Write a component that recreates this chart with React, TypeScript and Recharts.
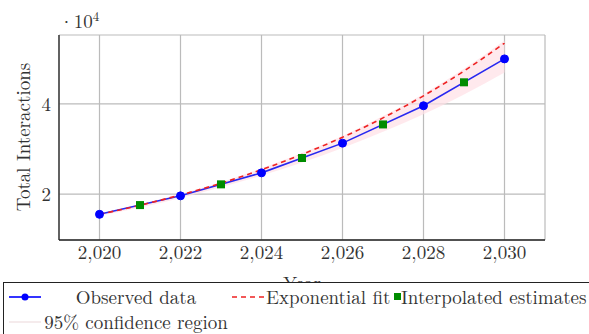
import React from 'react';
import {
  ComposedChart,
  Line,
  Area,
  XAxis,
  YAxis,
  CartesianGrid,
} from 'recharts';

const years = [2020, 2021, 2022, 2023, 2024, 2025, 2026, 2027, 2028, 2029, 2030];
const observed = [15500, null, 19600, null, 24700, null, 31300, null, 39600, null, 50000];
const interpolated = [null, 17550, null, 22150, null, 28000, null, 35450, null, 44800, null];
const expFit = [15500, 17500, 19800, 22400, 25400, 28800, 32600, 36900, 41800, 47300, 53500];
const bandLow = [15200, 17000, 19100, 21500, 24100, 27000, 30200, 33800, 37700, 42100, 47000];
const bandHigh = [15700, 17700, 20000, 22600, 25700, 29100, 32900, 37300, 42200, 47800, 54100];
const xTicks = [2020, 2022, 2024, 2026, 2028, 2030];
const yTicks = [20000, 40000];

const data = years.map((year, i) => ({
  year,
  observed: observed[i],
  interpolated: interpolated[i],
  fit: expFit[i],
  band: [bandLow[i], bandHigh[i]],
}));

const FONT = "'Latin Modern Roman'";
const FS = 19;
const TEXT = '#333';

const SquareDot = (props: any) => {
  const { cx, cy, payload } = props;
  if (payload.interpolated == null || cx == null || cy == null) return null;
  return <rect x={cx - 4} y={cy - 4} width={8} height={8} fill="#008c00" />;
};

const cell: React.CSSProperties = { position: 'absolute', whiteSpace: 'nowrap', lineHeight: '19px' };

const LegendBox = () => (
  <div
    style={{
      position: 'absolute',
      left: 3,
      top: 282,
      width: 600,
      height: 60,
      border: '1.3px solid #222',
      background: '#fff',
      fontFamily: FONT,
      fontSize: FS,
      color: TEXT,
      boxSizing: 'border-box',
    }}
  >
    {/* row 1 */}
    <svg style={{ position: 'absolute', left: 5, top: 7 }} width={32} height={14}>
      <line x1={0} y1={7} x2={32} y2={7} stroke="#0000ff" strokeWidth={1.6} />
      <circle cx={16} cy={7} r={3.5} fill="#0000ff" />
    </svg>
    <div style={{ ...cell, left: 39, top: 4, width: 186, textAlign: 'center' }}>Observed data</div>
    <svg style={{ position: 'absolute', left: 228, top: 7 }} width={32} height={14}>
      <line x1={0} y1={7} x2={32} y2={7} stroke="#ee2222" strokeWidth={1.5} strokeDasharray="5 4" />
    </svg>
    <div style={{ ...cell, left: 262, top: 4 }}>Exponential fit</div>
    <svg style={{ position: 'absolute', left: 389, top: 7 }} width={8} height={14}>
      <rect x={1} y={3} width={7} height={7} fill="#008c00" />
    </svg>
    <div style={{ ...cell, left: 397, top: 4 }}>Interpolated estimates</div>
    {/* row 2 */}
    <svg style={{ position: 'absolute', left: 5, top: 32 }} width={32} height={14}>
      <line x1={0} y1={7} x2={32} y2={7} stroke="#f2e4e6" strokeWidth={1.5} />
    </svg>
    <div style={{ ...cell, left: 39, top: 29, width: 186, textAlign: 'center' }}>95% confidence region</div>
  </div>
);

const YLabel = () => (
  <text
    x={22}
    y={137}
    transform="rotate(-90 22 137)"
    textAnchor="middle"
    dominantBaseline="central"
    style={{ fontFamily: FONT }}
    fontSize={FS}
    fill={TEXT}
  >
    Total Interactions
  </text>
);

export default function App() {
  return (
    <div style={{ position: 'absolute', left: 0, top: 0, width: 589, height: 334, overflow: 'hidden', background: '#fff', fontFamily: FONT }}>
      <ComposedChart
        width={589}
        height={334}
        data={data}
        margin={{ top: 35, right: 44, bottom: 0, left: 0 }}
        style={{ fontFamily: FONT }}
      >
        <CartesianGrid stroke="#bbbbbb" strokeWidth={1.2} />
        <XAxis
          dataKey="year"
          type="number"
          domain={[2019, 2031]}
          ticks={xTicks}
          tickFormatter={(v: number) => v.toLocaleString('en-US')}
          tickLine={false}
          tickSize={0}
          tickMargin={6}
          height={94}
          axisLine={{ stroke: '#222', strokeWidth: 1.3 }}
          tick={{ fontSize: FS, fill: TEXT, style: { fontFamily: FONT } }}
          label={{ value: 'Year', position: 'insideTop', offset: 37, fontSize: FS, fill: TEXT, style: { fontFamily: FONT } }}
        />
        <XAxis
          xAxisId="top"
          dataKey="year"
          type="number"
          orientation="top"
          domain={[2019, 2031]}
          tick={false}
          tickLine={false}
          height={0}
          axisLine={{ stroke: '#222', strokeWidth: 1.3 }}
        />
        <YAxis
          type="number"
          domain={[9800, 55300]}
          ticks={yTicks}
          tickFormatter={(v: number) => String(v / 10000)}
          tickLine={false}
          tickSize={0}
          tickMargin={8}
          width={59}
          axisLine={{ stroke: '#222', strokeWidth: 1.3 }}
          tick={{ fontSize: FS, fill: TEXT, style: { fontFamily: FONT } }}
          label={<YLabel />}
        />
        <YAxis
          yAxisId="right"
          orientation="right"
          domain={[9800, 55300]}
          tick={false}
          tickLine={false}
          width={0}
          axisLine={{ stroke: '#222', strokeWidth: 1.3 }}
        />
        <Area
          dataKey="band"
          type="monotone"
          stroke="none"
          fill="#ffdfe5"
          fillOpacity={0.7}
          isAnimationActive={false}
        />
        <Line
          dataKey="observed"
          connectNulls
          stroke="#2828f0"
          strokeWidth={1.6}
          dot={{ r: 4, fill: '#0000ff', stroke: '#0000ff', strokeWidth: 1 }}
          isAnimationActive={false}
        />
        <Line
          dataKey="fit"
          type="monotone"
          stroke="#ee2222"
          strokeWidth={1.6}
          strokeDasharray="5 4"
          dot={false}
          isAnimationActive={false}
        />
        <Line
          dataKey="interpolated"
          stroke="none"
          dot={<SquareDot />}
          isAnimationActive={false}
        />
      </ComposedChart>
      <div
        style={{
          position: 'absolute',
          left: 59,
          top: 6,
          fontSize: FS,
          color: TEXT,
          whiteSpace: 'nowrap',
        }}
      >
        ·10<sup style={{ fontSize: 13 }}>4</sup>
      </div>
      <LegendBox />
    </div>
  );
}
